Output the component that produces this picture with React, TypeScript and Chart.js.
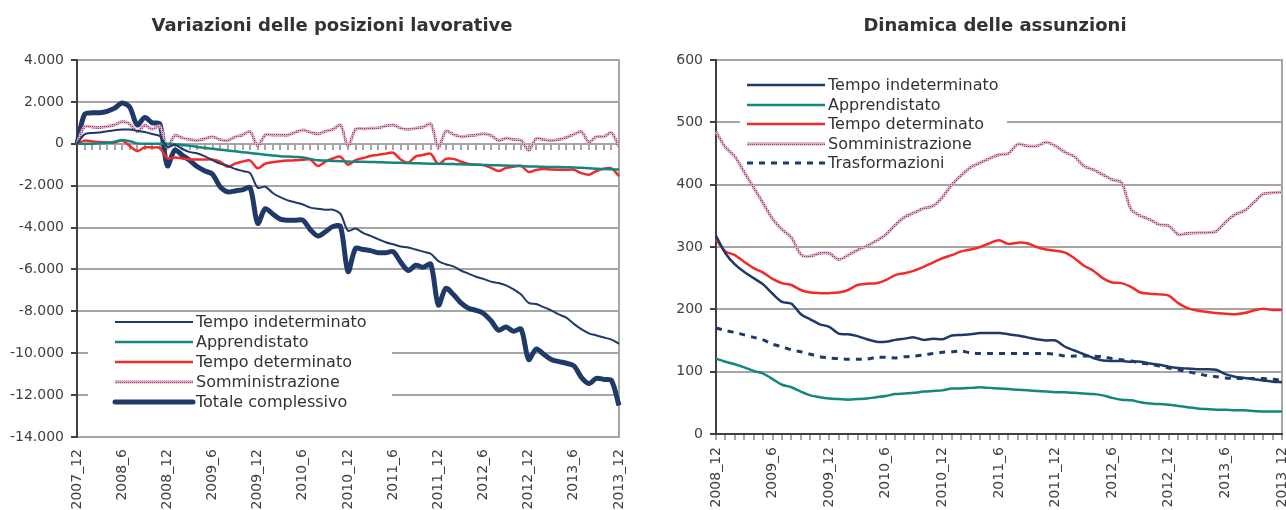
import React, { useEffect, useRef } from 'react';
import { Chart, registerables } from 'chart.js';

Chart.register(...registerables);

const FONT = '"DejaVu Sans", Verdana, sans-serif';
const GRID = '#a6a6a6';
const AXIS = '#404040';
const TEXT = '#333333';

const NAVY = '#1f3a68';
const TEAL = '#12877f';
const RED = '#f42a2a';

function monthLabels(year: number, month: number, count: number): string[] {
  const out: string[] = [];
  let y = year;
  let m = month;
  for (let i = 0; i < count; i++) {
    out.push(`${y}_${m}`);
    m += 1;
    if (m > 12) { m = 1; y += 1; }
  }
  return out;
}

// ---------- Left chart: Variazioni delle posizioni lavorative ----------
const leftCategories = monthLabels(2007, 12, 73);
const leftTickLabels = ['2007_12', '2008_6', '2008_12', '2009_6', '2009_12', '2010_6', '2010_12', '2011_6', '2011_12', '2012_6', '2012_12', '2013_6', '2013_12'];

const leftTempoIndeterminato = [
  0, 450, 520, 540, 600, 650, 680, 680, 620, 560, 470, 370,
  -150, -50, -250, -400, -460, -600, -780, -950, -1050, -1200, -1300, -1400,
  -2100, -2050, -2350, -2550, -2700, -2800, -2900, -3050, -3100, -3150, -3150, -3350,
  -4150, -4050, -4250, -4400, -4550, -4700, -4800, -4900, -4950, -5050, -5150, -5250,
  -5600, -5750, -5850, -6050, -6200, -6350, -6450, -6580, -6650, -6760, -6950, -7200,
  -7600, -7650, -7800, -7950, -8150, -8300, -8600, -8850, -9050, -9150, -9250, -9350, -9550,
];
const leftApprendistato = [
  0, 0, 0, 20, 50, 100, 180, 120, 20, 0, 0, 0,
  0, -20, -60, -100, -150, -200, -240, -280, -320, -360, -400, -440,
  -480, -520, -560, -590, -610, -630, -650, -720, -790, -800, -820, -830,
  -850, -860, -860, -870, -880, -890, -900, -910, -920, -930, -940, -950,
  -950, -960, -970, -980, -990, -1000, -1010, -1020, -1030, -1040, -1050, -1060,
  -1080, -1090, -1100, -1110, -1110, -1120, -1130, -1150, -1170, -1190, -1210, -1220, -1230,
];
const leftTempoDeterminato = [
  0, 150, 120, 80, 60, 60, 150, -100, -350, -170, -180, -200,
  -700, -650, -700, -750, -750, -750, -750, -850, -1100, -950, -850, -800,
  -1170, -950, -880, -830, -800, -790, -760, -750, -1060, -850, -700, -620,
  -1000, -780, -680, -580, -530, -470, -430, -750, -900, -600, -530, -480,
  -970, -720, -720, -850, -960, -1000, -1020, -1150, -1300, -1150, -1100, -1060,
  -1350, -1250, -1200, -1230, -1240, -1240, -1240, -1400, -1480, -1300, -1190, -1170, -1540,
];
const leftSomministrazione = [
  0, 820, 800, 780, 820, 900, 1050, 950, 580, 880, 700, 850,
  -160, 400, 280, 200, 160, 250, 340, 200, 150, 330, 420, 580,
  -100, 420, 420, 420, 420, 550, 660, 550, 470, 600, 690, 900,
  -100, 690, 720, 740, 760, 850, 900, 750, 690, 740, 800, 950,
  -160, 600, 450, 340, 380, 420, 480, 400, 160, 260, 200, 160,
  -320, 250, 200, 150, 200, 300, 450, 580, 80, 340, 340, 530, -160,
];
const leftTotale = [
  0, 1400, 1480, 1480, 1550, 1700, 1950, 1750, 900, 1250, 1000, 950,
  -1050, -300, -550, -800, -1100, -1300, -1450, -2050, -2300, -2250, -2200, -2100,
  -3800, -3100, -3350, -3600, -3650, -3650, -3650, -4100, -4400, -4200, -3950, -3950,
  -6100, -5000, -5050, -5100, -5200, -5200, -5150, -5650, -6050, -5800, -5900, -5750,
  -7700, -6900, -7200, -7600, -7850, -7950, -8100, -8450, -8900, -8750, -8950, -8850,
  -10300, -9800, -10050, -10300, -10400, -10480, -10600, -11150, -11450, -11200, -11250, -11300, -12500,
];

// ---------- Right chart: Dinamica delle assunzioni ----------
const rightCategories = monthLabels(2008, 12, 61);
const rightTickLabels = ['2008_12', '2009_6', '2009_12', '2010_6', '2010_12', '2011_6', '2011_12', '2012_6', '2012_12', '2013_6', '2013_12'];

const rightTempoIndeterminato = [
  318, 290, 272, 260, 250, 240, 225, 212, 209, 192,
  184, 176, 172, 161, 160, 157, 152, 148, 148, 151,
  153, 155, 151, 153, 152, 158, 159, 160, 162, 162,
  162, 160, 158, 155, 152, 150, 150, 140, 134, 128,
  122, 118, 117, 117, 116, 116, 113, 111, 108, 106,
  105, 104, 104, 103, 96, 92, 90, 88, 86, 84, 83,
];
const rightApprendistato = [
  121, 116, 112, 107, 101, 97, 88, 79, 75, 68,
  62, 59, 57, 56, 55, 56, 57, 59, 61, 64,
  65, 66, 68, 69, 70, 73, 73, 74, 75, 74,
  73, 72, 71, 70, 69, 68, 67, 67, 66, 65,
  64, 62, 58, 55, 54, 51, 49, 48, 47, 45,
  43, 41, 40, 39, 39, 38, 38, 37, 36, 36, 36,
];
const rightTempoDeterminato = [
  312, 293, 287, 276, 266, 259, 249, 242, 239, 231,
  227, 226, 226, 227, 231, 239, 241, 242, 247, 255,
  258, 262, 268, 275, 282, 287, 293, 296, 300, 306,
  311, 305, 307, 306, 300, 296, 294, 291, 282, 270,
  262, 250, 243, 242, 236, 227, 225, 224, 222, 210,
  202, 198, 196, 194, 193, 192, 194, 198, 201, 199, 199,
];
const rightSomministrazione = [
  485, 460, 445, 420, 395, 370, 345, 328, 315, 288,
  285, 290, 290, 280, 287, 295, 302, 310, 320, 335,
  348, 355, 362, 366, 380, 400, 415, 428, 435, 442,
  448, 450, 465, 462, 462, 468, 462, 452, 445, 430,
  424, 416, 408, 403, 360, 350, 344, 336, 334, 320,
  322, 323, 323, 325, 340, 352, 358, 371, 385, 387, 388,
];
const rightTrasformazioni = [
  170, 166, 163, 159, 155, 151, 144, 140, 135, 132,
  128, 124, 122, 121, 120, 120, 120, 123, 123, 122,
  124, 125, 127, 129, 131, 132, 133, 130, 129, 129,
  129, 129, 129, 129, 129, 129, 128, 125, 125, 125,
  125, 124, 121, 119, 117, 114, 112, 109, 106, 103,
  100, 97, 94, 92, 90, 89, 89, 89, 89, 88, 86,
];

function formatIt(v: number): string {
  const s = Math.abs(v).toString().replace(/\B(?=(\d{3})+(?!\d))/g, '.');
  return (v < 0 ? '-' : '') + s;
}

function makePinkPattern(): CanvasPattern | string {
  const c = document.createElement('canvas');
  c.width = 2;
  c.height = 2;
  const g = c.getContext('2d');
  if (!g) return '#c98aa9';
  g.fillStyle = '#dfa9c3';
  g.fillRect(0, 0, 2, 2);
  g.fillStyle = '#96406d';
  g.fillRect(0, 0, 1, 1);
  const p = g.createPattern(c, 'repeat');
  return p || '#c98aa9';
}

type LegendCfg = {
  box: [number, number, number, number];
  x0: number;
  x1: number;
  tx: number;
  row0: number;
  gap: number;
  size: number;
};

type DecorCfg = {
  title: string;
  titleX: number;
  titleY: number;
  zeroTicks: boolean;
  bottomTicks: boolean;
  xAxisColor: string;
  legend: LegendCfg;
};

function makeDecor(cfg: DecorCfg) {
  return {
    id: 'decor',
    beforeDatasetsDraw(chart: any) {
      const ctx = chart.ctx as CanvasRenderingContext2D;
      const ca = chart.chartArea;
      const xs = chart.scales.x;
      const ys = chart.scales.y;
      const n = chart.data.labels.length;
      ctx.save();
      ctx.lineWidth = 2;
      ctx.lineCap = 'butt';

      // horizontal gridlines from the y scale ticks
      ctx.strokeStyle = GRID;
      ctx.beginPath();
      ys.ticks.forEach((t: any) => {
        const y = Math.round(ys.getPixelForValue(t.value));
        ctx.moveTo(ca.left, y);
        ctx.lineTo(ca.right + 1, y);
      });
      // right frame line
      ctx.moveTo(Math.round(ca.right), ca.top - 1);
      ctx.lineTo(Math.round(ca.right), ca.bottom + 1);
      ctx.stroke();

      // legend box (covers gridlines)
      const L = cfg.legend;
      ctx.fillStyle = '#ffffff';
      ctx.fillRect(L.box[0], L.box[1], L.box[2] - L.box[0], L.box[3] - L.box[1]);

      // monthly ticks on the zero line / bottom axis
      ctx.strokeStyle = GRID;
      ctx.beginPath();
      if (cfg.zeroTicks) {
        const y0 = Math.round(ys.getPixelForValue(0));
        for (let i = 0; i < n; i++) {
          const x = Math.round(xs.getPixelForValue(i));
          ctx.moveTo(x, y0);
          ctx.lineTo(x, y0 + 6);
        }
      }
      if (cfg.bottomTicks) {
        const yb = Math.round(ca.bottom);
        for (let i = 0; i < n; i++) {
          const x = Math.round(xs.getPixelForValue(i));
          ctx.moveTo(x, yb);
          ctx.lineTo(x, yb + 6);
        }
      }
      ctx.stroke();

      // x axis line
      ctx.strokeStyle = cfg.xAxisColor;
      ctx.beginPath();
      ctx.moveTo(ca.left, Math.round(ca.bottom));
      ctx.lineTo(ca.right + 1, Math.round(ca.bottom));
      ctx.stroke();

      // y axis line and tick marks
      ctx.strokeStyle = AXIS;
      ctx.beginPath();
      const xl = Math.round(ca.left);
      ctx.moveTo(xl, ca.top - 1);
      ctx.lineTo(xl, ca.bottom + 1);
      ys.ticks.forEach((t: any) => {
        const y = Math.round(ys.getPixelForValue(t.value));
        ctx.moveTo(xl - 6, y);
        ctx.lineTo(xl, y);
      });
      ctx.stroke();

      // legend entries
      chart.data.datasets.forEach((ds: any, i: number) => {
        const y = Math.round(L.row0 + i * L.gap);
        ctx.beginPath();
        ctx.strokeStyle = ds.borderColor;
        ctx.lineWidth = ds.borderWidth;
        ctx.setLineDash(ds.borderDash || []);
        ctx.lineCap = ds.borderWidth > 4 ? 'round' : 'butt';
        ctx.moveTo(L.x0, y);
        ctx.lineTo(L.x1, y);
        ctx.stroke();
        ctx.setLineDash([]);
        ctx.fillStyle = TEXT;
        ctx.font = `${L.size}px ${FONT}`;
        ctx.textAlign = 'left';
        ctx.textBaseline = 'middle';
        ctx.fillText(ds.label, L.tx, y + 1);
      });
      ctx.restore();
    },
    afterDraw(chart: any) {
      const ctx = chart.ctx as CanvasRenderingContext2D;
      ctx.save();
      ctx.fillStyle = TEXT;
      ctx.font = `bold 18px ${FONT}`;
      ctx.textAlign = 'center';
      ctx.textBaseline = 'alphabetic';
      ctx.fillText(cfg.title, cfg.titleX, cfg.titleY);
      ctx.restore();
    },
  };
}

function baseOptions(opts: {
  yMin: number; yMax: number; yStep: number; yWidth: number; xHeight: number;
  padRight: number; xPad: number; tickLabels: string[]; categories: string[];
}) {
  return {
    responsive: false,
    animation: false as const,
    layout: { padding: { top: 60, left: 0, right: opts.padRight, bottom: 0 } },
    plugins: { legend: { display: false }, title: { display: false }, tooltip: { enabled: false } },
    elements: { point: { radius: 0 }, line: { tension: 0.3 } },
    scales: {
      x: {
        type: 'category' as const,
        offset: false,
        afterFit: (s: any) => { s.height = opts.xHeight; s.paddingLeft = 0; s.paddingRight = 0; },
        border: { display: false },
        grid: { display: false, drawTicks: false, drawOnChartArea: false },
        ticks: {
          autoSkip: false,
          maxRotation: 90,
          minRotation: 90,
          padding: opts.xPad,
          color: AXIS,
          font: { family: FONT, size: 14 },
          callback: (_v: any, i: number) => {
            const lab = opts.categories[i];
            return opts.tickLabels.includes(lab) ? lab : '';
          },
        },
      },
      y: {
        min: opts.yMin,
        max: opts.yMax,
        afterFit: (s: any) => { s.width = opts.yWidth; },
        border: { display: false },
        grid: { display: false, drawTicks: false, drawOnChartArea: false },
        ticks: {
          stepSize: opts.yStep,
          padding: 13,
          color: AXIS,
          font: { family: FONT, size: 14 },
          callback: (v: any) => formatIt(Number(v)),
        },
      },
    },
  };
}

function ChartCanvas({ build, width, height, left }: { build: () => any; width: number; height: number; left: number }) {
  const ref = useRef<HTMLCanvasElement | null>(null);
  useEffect(() => {
    if (!ref.current) return;
    const chart = new Chart(ref.current, build());
    return () => chart.destroy();
  }, []);
  return (
    <canvas
      ref={ref}
      width={width}
      height={height}
      style={{ position: 'absolute', left, top: 0, width, height, display: 'block' }}
    />
  );
}

function buildLeft() {
  const pink = makePinkPattern();
  return {
    type: 'line' as const,
    data: {
      labels: leftCategories,
      datasets: [
        { label: 'Tempo indeterminato', data: leftTempoIndeterminato, borderColor: NAVY, borderWidth: 2, fill: false },
        { label: 'Apprendistato', data: leftApprendistato, borderColor: TEAL, borderWidth: 2.5, fill: false },
        { label: 'Tempo determinato', data: leftTempoDeterminato, borderColor: RED, borderWidth: 2.5, fill: false },
        { label: 'Somministrazione', data: leftSomministrazione, borderColor: pink, borderWidth: 3, fill: false },
        { label: 'Totale complessivo', data: leftTotale, borderColor: NAVY, borderWidth: 5, fill: false, borderJoinStyle: 'round' },
      ],
    },
    options: baseOptions({
      yMin: -14000, yMax: 4000, yStep: 2000, yWidth: 77, xHeight: 73, padRight: 21, xPad: 12,
      tickLabels: leftTickLabels, categories: leftCategories,
    }),
    plugins: [makeDecor({
      title: 'Variazioni delle posizioni lavorative',
      titleX: 332,
      titleY: 31,
      zeroTicks: true,
      bottomTicks: false,
      xAxisColor: GRID,
      legend: { box: [88, 313, 392, 432], x0: 115, x1: 193, tx: 196, row0: 322, gap: 20, size: 16 },
    })],
  };
}

function buildRight() {
  const pink = makePinkPattern();
  return {
    type: 'line' as const,
    data: {
      labels: rightCategories,
      datasets: [
        { label: 'Tempo indeterminato', data: rightTempoIndeterminato, borderColor: NAVY, borderWidth: 2.5, fill: false },
        { label: 'Apprendistato', data: rightApprendistato, borderColor: TEAL, borderWidth: 2.5, fill: false },
        { label: 'Tempo determinato', data: rightTempoDeterminato, borderColor: RED, borderWidth: 2.5, fill: false },
        { label: 'Somministrazione', data: rightSomministrazione, borderColor: pink, borderWidth: 3, fill: false },
        { label: 'Trasformazioni', data: rightTrasformazioni, borderColor: NAVY, borderWidth: 3, borderDash: [6, 6], fill: false },
      ],
    },
    options: baseOptions({
      yMin: 0, yMax: 600, yStep: 100, yWidth: 76, xHeight: 76, padRight: 4, xPad: 13,
      tickLabels: rightTickLabels, categories: rightCategories,
    }),
    plugins: [makeDecor({
      title: 'Dinamica delle assunzioni',
      titleX: 355,
      titleY: 31,
      zeroTicks: false,
      bottomTicks: true,
      xAxisColor: AXIS,
      legend: { box: [100, 70, 367, 172], x0: 107, x1: 185, tx: 188, row0: 85, gap: 19.6, size: 16 },
    })],
  };
}

export default function App() {
  return (
    <div style={{ position: 'absolute', left: 0, top: 0, width: 1286, height: 510, background: '#ffffff', overflow: 'hidden' }}>
      <ChartCanvas build={buildLeft} width={640} height={510} left={0} />
      <ChartCanvas build={buildRight} width={646} height={510} left={640} />
    </div>
  );
}
